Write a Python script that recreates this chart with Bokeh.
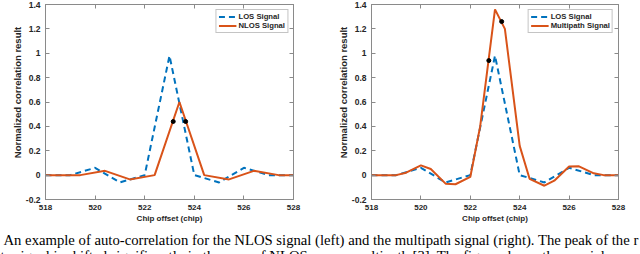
import math
from bokeh.plotting import figure
from bokeh.models import LinearAxis, FixedTicker, Range1d, Label, Legend, LegendItem
from bokeh.layouts import column, row
from bokeh.embed import file_html
from bokeh.resources import INLINE

# ---- data ----
x_ticks = [518, 520, 522, 524, 526, 528]
y_ticks = [-0.2, 0, 0.2, 0.4, 0.6, 0.8, 1.0, 1.2, 1.4]
y_tick_labels = ["-0.2", "0", "0.2", "0.4", "0.6", "0.8", "1", "1.2", "1.4"]

los_x = [518, 519, 520, 521, 522, 523, 524, 525, 526, 527, 528]
los_y = [0, 0, 0.06, -0.06, 0, 0.98, 0, -0.06, 0.06, 0, 0]

nlos_x = [518, 519.4, 520.4, 521.4, 522.4, 523.4, 524.4, 525.4, 526.4, 527.4, 528]
nlos_y = [0, 0, 0.035, -0.035, 0, 0.6, 0, -0.035, 0.035, 0, 0]

mp_x = [518, 519, 519.4, 520, 520.4, 521, 521.4, 522, 522.4, 523, 523.4, 524,
        524.4, 525, 525.4, 526, 526.4, 527, 527.4, 528]
mp_y = [0, 0, 0.02, 0.08, 0.05, -0.07, -0.075, -0.015, 0.4, 1.36, 1.2, 0.24,
        -0.03, -0.087, -0.046, 0.07, 0.072, 0.015, 0, 0]

nlos_dots_x = [523.15, 523.65]
nlos_dots_y = [0.44, 0.44]
mp_dots_x = [522.75, 523.27]
mp_dots_y = [0.94, 1.26]

x_label = "Chip offset (chip)"
y_label = "Normalized correlation result"
caption_lines = [
    "An example of auto-correlation for the NLOS signal (left) and the multipath signal (right). The peak of the r",
    "te signal is shifted significantly in the case of NLOS versus multipath [3]. The figure shows the special case",
]

BLUE = "#0072BD"
ORANGE = "#D95319"
FRAME = "#8a8a8a"
TXT = "#262626"
SANS = "Liberation Sans"
H = 225


def style_axis(ax, labels=True):
    ax.major_tick_in = 4
    ax.major_tick_out = 0
    ax.minor_tick_line_color = None
    ax.axis_line_color = FRAME
    ax.major_tick_line_color = FRAME
    if not labels:
        ax.major_label_text_font_size = "0px"
        ax.major_label_text_color = None
        ax.major_label_standoff = 0


def text_strip(width, height):
    f = figure(width=width, height=height, x_range=Range1d(0, width), y_range=Range1d(0, height),
               toolbar_location=None, output_backend="svg", min_border=0,
               x_axis_type=None, y_axis_type=None)
    f.outline_line_color = None
    f.grid.visible = False
    return f


def y_title(width, cx):
    f = text_strip(width, H)
    f.add_layout(Label(x=cx, y=H - 101.5, text=y_label, angle=math.pi / 2,
                       text_align="center", text_baseline="middle",
                       text_font=SANS, text_font_style="bold", text_font_size="9.5px",
                       text_color=TXT))
    return f


def make_panel(width, bl, br, other_label, other_x, other_y, dots_x, dots_y):
    p = figure(width=width, height=H, x_range=Range1d(518, 528), y_range=Range1d(-0.2, 1.4),
               toolbar_location=None, output_backend="svg",
               min_border_left=bl, min_border_right=br, min_border_top=4, min_border_bottom=26)
    p.grid.visible = False
    p.outline_line_color = FRAME
    p.background_fill_color = "white"
    p.border_fill_color = "white"

    p.xaxis.ticker = FixedTicker(ticks=x_ticks, minor_ticks=[])
    p.yaxis.ticker = FixedTicker(ticks=y_ticks, minor_ticks=[])
    p.yaxis.major_label_overrides = {t: l for t, l in zip(y_ticks, y_tick_labels)}
    for ax in (p.xaxis[0], p.yaxis[0]):
        style_axis(ax)
        ax.major_label_text_font = SANS
        ax.major_label_text_font_style = "bold"
        ax.major_label_text_color = TXT
        ax.axis_label_text_font = SANS
        ax.axis_label_text_font_style = "bold"
        ax.axis_label_text_color = TXT
    p.xaxis.major_label_text_font_size = "8px"
    p.yaxis.major_label_text_font_size = "8.5px"
    p.xaxis.axis_label = x_label
    p.xaxis.axis_label_text_font_size = "8px"
    p.xaxis.major_label_standoff = 5
    p.xaxis.axis_label_standoff = 1
    p.yaxis.major_label_standoff = 5

    top = LinearAxis(ticker=FixedTicker(ticks=x_ticks, minor_ticks=[]))
    style_axis(top, labels=False)
    p.add_layout(top, "above")
    right = LinearAxis(ticker=FixedTicker(ticks=y_ticks, minor_ticks=[]))
    style_axis(right, labels=False)
    p.add_layout(right, "right")

    r1 = p.line(los_x, los_y, line_color=BLUE, line_width=2, line_dash="6 4")
    r2 = p.line(other_x, other_y, line_color=ORANGE, line_width=2)
    p.scatter(dots_x, dots_y, size=4, color="black")

    legend = Legend(items=[LegendItem(label="LOS Signal", renderers=[r1]),
                           LegendItem(label=other_label, renderers=[r2])],
                    location="top_right")
    legend.margin = 5
    legend.padding = 2
    legend.spacing = 0
    legend.glyph_width = 18
    legend.glyph_height = 9
    legend.label_height = 9
    legend.label_standoff = 2
    legend.label_text_font = SANS
    legend.label_text_font_style = "bold"
    legend.label_text_font_size = "7.7px"
    legend.label_text_color = TXT
    legend.border_line_color = FRAME
    legend.border_line_width = 1
    legend.background_fill_alpha = 1
    p.add_layout(legend)
    return p


yl1 = y_title(22, 17)
p1 = make_panel(298, 21, 27, "NLOS Signal", nlos_x, nlos_y, nlos_dots_x, nlos_dots_y)
yl2 = y_title(28, 23)
p2 = make_panel(292, 20, 22, "Multipath Signal", mp_x, mp_y, mp_dots_x, mp_dots_y)

cap = text_strip(640, 29)
for txt, xx, yy in zip(caption_lines, [3, 0], [15, -1]):
    cap.add_layout(Label(x=xx, y=yy, text=txt, text_baseline="alphabetic",
                         text_font="Liberation Serif", text_font_size="14.7px",
                         text_color="black"))

layout = column(row(yl1, p1, yl2, p2), cap)
open("out.html", "w").write(file_html(layout, INLINE))
